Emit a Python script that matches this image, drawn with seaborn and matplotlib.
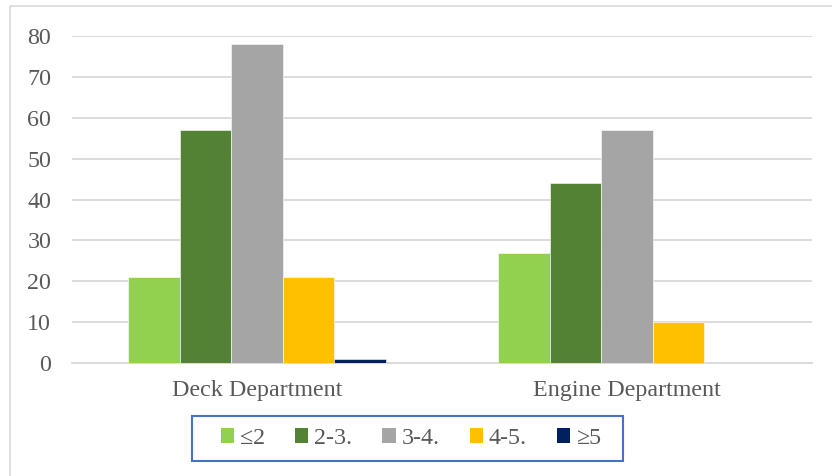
import matplotlib
matplotlib.use("Agg")
import matplotlib.pyplot as plt
import matplotlib.patches as mpatches
import seaborn as sns
import pandas as pd

departments = ["Deck Department", "Engine Department"]
groups = ["≤2", "2-3.", "3-4.", "4-5.", "≥5"]
deck_values = [21, 57, 78, 21, 1]
engine_values = [27, 44, 57, 10, 0]
colors = ["#92D050", "#548235", "#A5A5A5", "#FFC000", "#002060"]
y_ticks = [0, 10, 20, 30, 40, 50, 60, 70, 80]

rows = []
for g, v in zip(groups, deck_values):
    rows.append({"Department": departments[0], "Group": g, "Value": v})
for g, v in zip(groups, engine_values):
    rows.append({"Department": departments[1], "Group": g, "Value": v})
df = pd.DataFrame(rows)

sns.set_theme(style="white")
plt.rcParams["font.family"] = ["Liberation Serif", "DejaVu Serif"]

fig = plt.figure(figsize=(8.32, 4.76), dpi=100)
ax = fig.add_axes([72/832, 1 - 363/476, 740/832, (363 - 36)/476])

sns.barplot(data=df, x="Department", y="Value", hue="Group", order=departments,
            hue_order=groups, palette=colors, saturation=1, width=0.695, ax=ax,
            edgecolor="white", linewidth=0.4, legend=False, zorder=3)

ax.set_ylim(0, 80)
ax.set_yticks(y_ticks)
ax.set_xlim(-0.5, 1.5)
ax.yaxis.grid(True, color="#D9D9D9", linewidth=1.3, zorder=0)
ax.set_axisbelow(True)
for s in ["top", "right", "left"]:
    ax.spines[s].set_visible(False)
ax.spines["bottom"].set_color("#D9D9D9")
ax.spines["bottom"].set_linewidth(1.3)
ax.set_xlabel("")
ax.set_ylabel("")
ax.tick_params(axis="both", length=0, labelsize=17.3, labelcolor="#595959")
ax.tick_params(axis="y", pad=15)
ax.tick_params(axis="x", pad=12)

handles = [mpatches.Patch(facecolor=c, edgecolor="none", label=g) for c, g in zip(colors, groups)]
leg = fig.legend(handles=handles, loc="center", bbox_to_anchor=(411/832, 1 - 438.5/476),
                 ncol=5, frameon=False, fontsize=17.3,
                 handlelength=0.55, handleheight=0.55, handletextpad=0.25,
                 columnspacing=1.25, labelcolor="#595959")

legend_box = mpatches.Rectangle((192/832, 1 - 461/476), (623 - 192)/832, 45/476,
                                transform=fig.transFigure, fill=False,
                                edgecolor="#4472C4", linewidth=1.5)
fig.patches.append(legend_box)

border = mpatches.Rectangle((10/832, -0.1), 1.2, 1.1 - 6/476, transform=fig.transFigure,
                            fill=False, edgecolor="#D9D9D9", linewidth=1.2)
fig.patches.append(border)

fig.savefig("out.png", dpi=100)
